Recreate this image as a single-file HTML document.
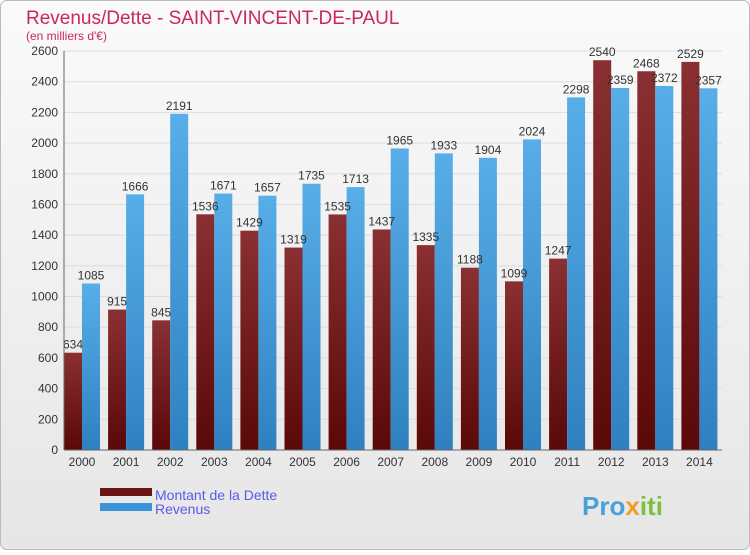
<!DOCTYPE html>
<html><head><meta charset="utf-8"><style>
body{margin:0;width:750px;height:550px;overflow:hidden;font-family:"Liberation Sans",sans-serif}
</style></head><body>
<svg width="750" height="550" xmlns="http://www.w3.org/2000/svg">
<defs>
<linearGradient id="bg" x1="0" y1="0" x2="0" y2="1"><stop offset="0" stop-color="#fafafa"/><stop offset="1" stop-color="#e6e6e6"/></linearGradient>
<linearGradient id="red" x1="0" y1="0" x2="0" y2="1"><stop offset="0" stop-color="#8a3032"/><stop offset="1" stop-color="#5a0808"/></linearGradient>
<linearGradient id="blue" x1="0" y1="0" x2="0" y2="1"><stop offset="0" stop-color="#58aee8"/><stop offset="1" stop-color="#2f80c0"/></linearGradient>
</defs>
<rect x="0.5" y="0.5" width="749" height="549" rx="6" fill="url(#bg)" stroke="#bbb"/>
<text x="26" y="24" font-size="19" fill="#c8285e">Revenus/Dette - SAINT-VINCENT-DE-PAUL</text>
<text x="26" y="40" font-size="12" fill="#c8285e">(en milliers d'€)</text>
<g id="grid"></g><g id="bars"></g>
<line x1="64" y1="450" x2="722" y2="450" stroke="#666"/>
<line x1="64" y1="51" x2="64" y2="450" stroke="#666"/>
<rect x="100" y="488" width="52" height="8" fill="#6a1414"/>
<rect x="100" y="503" width="52" height="8" fill="#3a93d8"/>
<text x="155" y="500" font-size="14" fill="#5a5ae8">Montant de la Dette</text>
<text x="155" y="514" font-size="14" fill="#5a5ae8">Revenus</text>
<text x="582" y="515" font-size="26" font-weight="bold" fill="#4aa0d8">Pro<tspan fill="#f0a020">x</tspan><tspan fill="#7cc040">iti</tspan></text>
</svg>
<script>
const years=["2000","2001","2002","2003","2004","2005","2006","2007","2008","2009","2010","2011","2012","2013","2014"];
const dette=[634,915,845,1536,1429,1319,1535,1437,1335,1188,1099,1247,2540,2468,2529];
const revenus=[1085,1666,2191,1671,1657,1735,1713,1965,1933,1904,2024,2298,2359,2372,2357];
const ticks=[0,200,400,600,800,1000,1200,1400,1600,1800,2000,2200,2400,2600];
const NS="http://www.w3.org/2000/svg";
const y=v=>450-v*399/2600, x0=i=>64+i*44.1, bw=18;
const g=document.getElementById('grid'), b=document.getElementById('bars');
function mk(p,tag,a,txt){const e=document.createElementNS(NS,tag);for(const k in a)e.setAttribute(k,a[k]);if(txt!==undefined)e.textContent=txt;p.appendChild(e);return e;}
ticks.forEach(t=>{
 const l=mk(g,'line',{x1:64,x2:722,y1:y(t),y2:y(t),stroke:'#ddd'});
 
 
 const tx=mk(g,'text',{x:58,y:y(t)+4,'font-size':12,fill:'#333','text-anchor':'end'},t);
 
 
});
years.forEach((yr,i)=>{
 const xa=x0(i);
 const r1=mk(b,'rect',{x:xa,y:y(dette[i]),width:bw,height:450-y(dette[i]),fill:'url(#red)'});
 
 
 const r2=mk(b,'rect',{x:xa+bw,y:y(revenus[i]),width:bw,height:450-y(revenus[i]),fill:'url(#blue)'});
 
 
 const t1=mk(b,'text',{x:xa+bw/2,y:y(dette[i])-4,'font-size':12,fill:'#333','text-anchor':'middle'},dette[i]);
 
 
 const t2=mk(b,'text',{x:xa+bw*1.5,y:y(revenus[i])-4,'font-size':12,fill:'#333','text-anchor':'middle'},revenus[i]);
 
 
 const tk=mk(b,'text',{x:xa+bw,y:466,'font-size':12,fill:'#333','text-anchor':'middle'},yr);
 
 
});
</script>
</body></html>
